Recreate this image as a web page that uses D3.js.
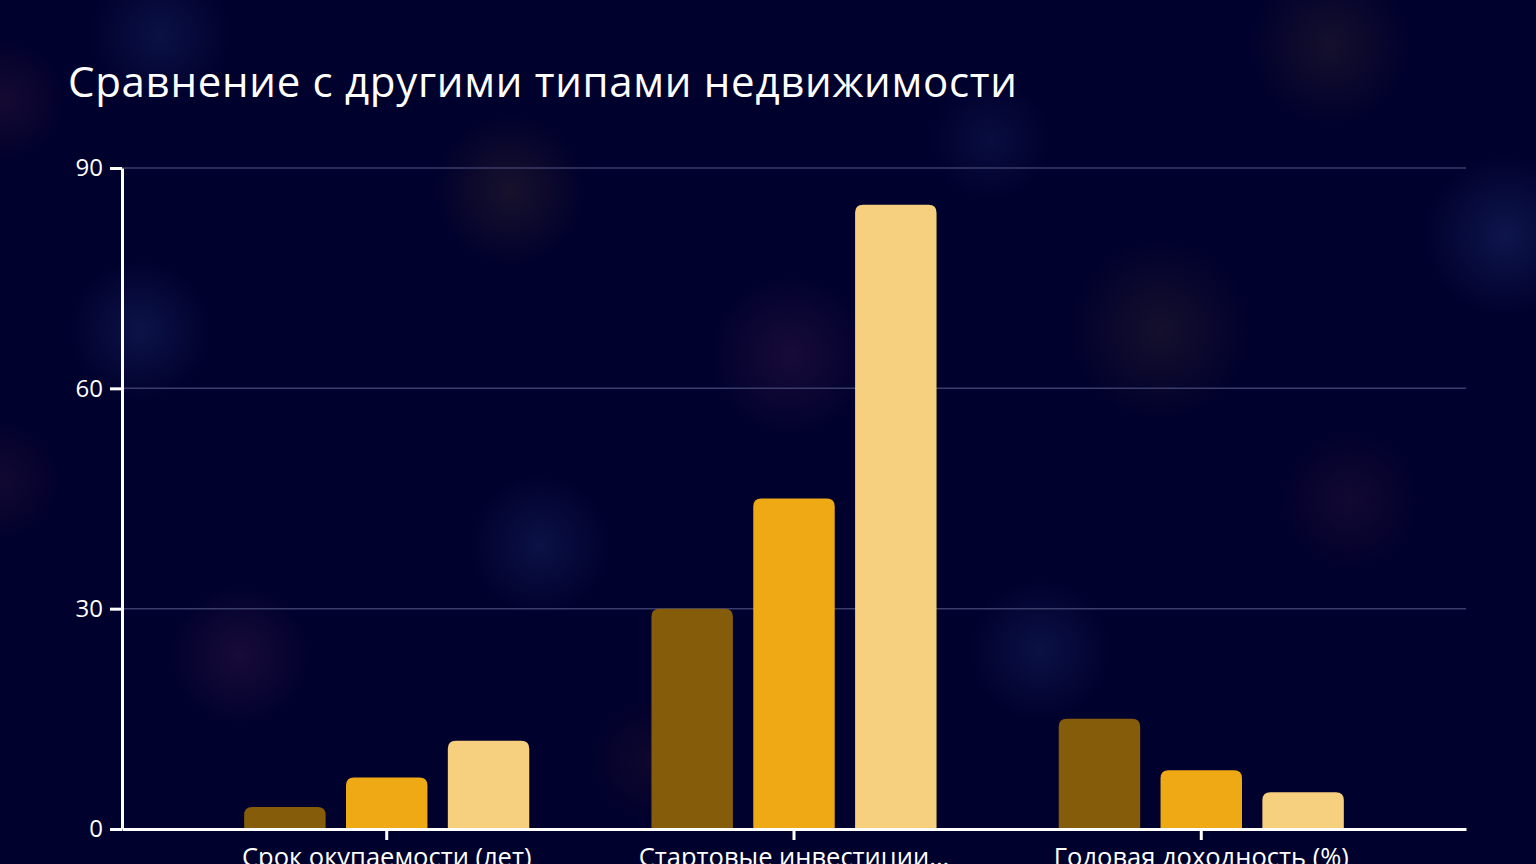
<!DOCTYPE html>
<html>
<head>
<meta charset="utf-8">
<script src="https://cdn.jsdelivr.net/npm/d3@7"></script>
<style>
  html, body { margin: 0; padding: 0; background: #01012d; overflow: hidden; }
  svg { display: block; }
</style>
</head>
<body>
<svg id="chart" width="1536" height="864"></svg>
<script>
const categories = ["Срок окупаемости (лет)", "Стартовые инвестиции...", "Годовая доходность (%)"];
const seriesNames = ["Серия 1", "Серия 2", "Серия 3"];
const seriesA = [3, 30, 15];
const seriesB = [7, 45, 8];
const seriesC = [12, 85, 5];
const yTicks = [0, 30, 60, 90];
const colors = ["#855d0a", "#eea915", "#f6d07e"];

const blobs = [
  {x: 160, y: 35, r: 70, c: "#1a2a6a", o: 0.4},
  {x: 140, y: 330, r: 70, c: "#1a2a6a", o: 0.45},
  {x: 540, y: 545, r: 70, c: "#1a2a6a", o: 0.4},
  {x: 1040, y: 650, r: 70, c: "#1a2a6a", o: 0.4},
  {x: 1505, y: 235, r: 80, c: "#1a2a6a", o: 0.5},
  {x: 990, y: 140, r: 60, c: "#1a2a6a", o: 0.3},
  {x: 510, y: 190, r: 75, c: "#3a2a2a", o: 0.4},
  {x: 1160, y: 330, r: 90, c: "#3a2a2a", o: 0.35},
  {x: 1330, y: 45, r: 80, c: "#3a2a2a", o: 0.35},
  {x: 1350, y: 500, r: 70, c: "#3a1a3a", o: 0.3},
  {x: 790, y: 355, r: 80, c: "#3a1a4a", o: 0.4},
  {x: 240, y: 655, r: 70, c: "#3a1a4a", o: 0.4},
  {x: 5, y: 100, r: 60, c: "#3a1a3a", o: 0.35},
  {x: 0, y: 480, r: 60, c: "#3a1a3a", o: 0.3},
  {x: 650, y: 760, r: 60, c: "#3a1a2a", o: 0.25}
];

const svg = d3.select("#chart");
const W = 1536, H = 864;
svg.append("rect").attr("width", W).attr("height", H).attr("fill", "#01012d");

const defs = svg.append("defs");
blobs.forEach((b, i) => {
  const g = defs.append("radialGradient").attr("id", "blob" + i);
  g.append("stop").attr("offset", "0%").attr("stop-color", b.c).attr("stop-opacity", b.o);
  g.append("stop").attr("offset", "100%").attr("stop-color", b.c).attr("stop-opacity", 0);
});
svg.append("g").selectAll("circle").data(blobs).join("circle")
  .attr("cx", d => d.x).attr("cy", d => d.y).attr("r", d => d.r)
  .attr("fill", (d, i) => `url(#blob${i})`);

const font = "'Open Sans', 'Noto Sans', sans-serif";

svg.append("text")
  .attr("x", 68).attr("y", 97)
  .attr("fill", "#ffffff")
  .attr("font-family", font)
  .attr("font-size", 42)
  .attr("letter-spacing", "0.7px")
  .text("Сравнение с другими типами недвижимости");

const m = {left: 122, right: 1466, top: 168, bottom: 829};

const x0 = d3.scaleBand().domain(categories).range([m.left, m.right]).padding(0.3);
const x1 = d3.scaleBand().domain(seriesNames).range([0, x0.bandwidth()]).paddingInner(0.2).paddingOuter(0);
const y = d3.scaleLinear().domain([0, 90]).range([m.bottom, m.top]);

// grid
svg.append("g").selectAll("line").data(yTicks.filter(t => t > 0)).join("line")
  .attr("x1", m.left).attr("x2", m.right)
  .attr("y1", d => y(d)).attr("y2", d => y(d))
  .attr("stroke", "#3b3d6a").attr("stroke-width", 1.5);

// bars
const data = categories.map((c, i) => ({
  cat: c,
  vals: [seriesA[i], seriesB[i], seriesC[i]].map((v, j) => ({name: seriesNames[j], v, color: colors[j]}))
}));

function topRounded(x, yTop, w, h, r) {
  r = Math.min(r, h, w / 2);
  return `M${x},${yTop + h}V${yTop + r}Q${x},${yTop} ${x + r},${yTop}H${x + w - r}Q${x + w},${yTop} ${x + w},${yTop + r}V${yTop + h}Z`;
}

const groups = svg.append("g").selectAll("g").data(data).join("g")
  .attr("transform", d => `translate(${x0(d.cat)},0)`);
groups.selectAll("path").data(d => d.vals).join("path")
  .attr("d", d => topRounded(x1(d.name), y(d.v), x1.bandwidth(), y(0) - y(d.v), 8))
  .attr("fill", d => d.color);

// y axis
const yAxis = svg.append("g").attr("transform", `translate(${m.left},0)`)
  .call(d3.axisLeft(y).tickValues(yTicks).tickSize(12).tickPadding(7).tickSizeOuter(0));
yAxis.select(".domain").attr("stroke", "#ffffff").attr("stroke-width", 3);
yAxis.selectAll(".tick line").attr("stroke", "#ffffff").attr("stroke-width", 3);
yAxis.selectAll(".tick text").attr("fill", "#ffffff").attr("font-family", font).attr("font-size", 24);

// x axis
const xAxis = svg.append("g").attr("transform", `translate(0,${m.bottom})`)
  .call(d3.axisBottom(x0).tickSize(11).tickPadding(8).tickSizeOuter(0));
xAxis.select(".domain").attr("stroke", "#ffffff").attr("stroke-width", 3);
xAxis.selectAll(".tick line").attr("stroke", "#ffffff").attr("stroke-width", 3);
xAxis.selectAll(".tick text").attr("fill", "#ffffff").attr("font-family", font).attr("font-size", 25.5);
</script>
</body>
</html>
